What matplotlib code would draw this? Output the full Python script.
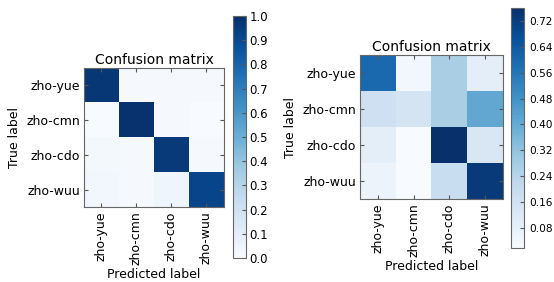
import numpy as np
import matplotlib
matplotlib.use("Agg")
import matplotlib.pyplot as plt

labels = ["zho-yue", "zho-cmn", "zho-cdo", "zho-wuu"]

# lewa macierz (prawie idealna)
cm_left = [
    [0.97, 0.01, 0.01, 0.01],
    [0.00, 0.99, 0.01, 0.00],
    [0.02, 0.01, 0.96, 0.01],
    [0.03, 0.01, 0.04, 0.92],
]
left_ticks = [0.0, 0.1, 0.2, 0.3, 0.4, 0.5, 0.6, 0.7, 0.8, 0.9, 1.0]

# prawa macierz
cm_right = [
    [0.60, 0.04, 0.27, 0.09],
    [0.17, 0.15, 0.27, 0.41],
    [0.09, 0.02, 0.76, 0.13],
    [0.06, 0.018, 0.19, 0.73],
]
right_ticks = [0.08, 0.16, 0.24, 0.32, 0.40, 0.48, 0.56, 0.64, 0.72]

plt.rcParams["font.family"] = "DejaVu Sans"
plt.rcParams["font.size"] = 9

fig = plt.figure(figsize=(5.54, 2.82), dpi=100)


def draw(ax_rect, cb_rect, cm, ticks, vmin=None, vmax=None, fmt="%.1f",
         cb_size=8.5, cb_pad=2.5):
    ax = fig.add_axes(ax_rect)
    cax = fig.add_axes(cb_rect)
    im = ax.imshow(np.array(cm), interpolation="nearest", cmap="Blues",
                   vmin=vmin, vmax=vmax, aspect="auto")
    ax.set_title("Confusion matrix", fontsize=10, pad=3)
    pos = np.arange(len(labels))
    ax.set_xticks(pos)
    ax.set_xticklabels(labels, rotation=90)
    ax.set_yticks(pos)
    ax.set_yticklabels(labels)
    ax.tick_params(direction="in", top=True, right=True, length=3,
                   color="#555555", pad=3)
    ax.set_ylabel("True label")
    ax.set_xlabel("Predicted label", labelpad=2)
    for s in ax.spines.values():
        s.set_color("#666666")

    cb = fig.colorbar(im, cax=cax, ticks=ticks, format=fmt)
    cb.ax.tick_params(direction="in", length=3, color="#555555",
                      pad=cb_pad, labelsize=cb_size)
    cb.outline.set_edgecolor("#666666")
    return ax


draw([0.1516, 0.266, 0.2527, 0.493], [0.4206, 0.0851, 0.0235, 0.858],
     cm_left, left_ticks, vmin=0.0, vmax=1.0, fmt="%.1f", cb_size=8.5)
draw([0.6498, 0.2943, 0.258, 0.5106], [0.9224, 0.1206, 0.0235, 0.851],
     cm_right, right_ticks, fmt="%.2f", cb_size=7.6, cb_pad=3.5)

fig.savefig("out.png", dpi=100, facecolor="white")
